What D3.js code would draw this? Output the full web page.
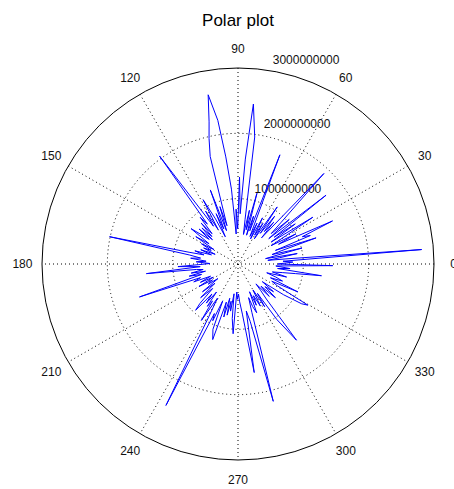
<!DOCTYPE html>
<html><head><meta charset="utf-8">
<script src="https://cdn.jsdelivr.net/npm/d3@7"></script>
<style>
html,body{margin:0;padding:0;background:#fff;}
text{font-family:"Liberation Sans",Arial,Helvetica,sans-serif;fill:#111;}
</style></head>
<body>
<svg id="chart" width="454" height="489"></svg>
<script>
const title = "Polar plot";
const angleTicks = [0,30,60,90,120,150,180,210,240,270,300,330];
const radialTicks = [1000000000,2000000000,3000000000];
const radialTickLabels = ["1000000000","2000000000","3000000000"];
const rMax = 3000000000;
const unit = 1e9;
const theta = [0,2,3.5,4.5,6,7,8.5,10,11,12.5,14,15.5,17,18.5,20,21.5,23,24.5,26,27.5,29,30.5,32,33.5,35,36.5,38,39.5,41,42.5,44,46.5,48,49.5,51,52.5,54,55.5,57,58.5,60,62,63.5,65,66.5,69,70.5,72,73.5,75,76.5,78,79.5,81,82.5,84.5,86,87.5,89,90.5,92,93.5,95,96.5,98,100,101.5,103,104.5,106,107.5,109,110.5,112,113.5,115,116.5,118.5,120,121.5,123,126,127.5,129,130.5,132,133.5,135,136.5,138,139.5,141,143,145,147,149,151,153,155,157,159,161,163,165,166.5,168,169.5,171,173,175,177,179,181,182.5,184,186,187.5,189,191,192.5,194,196,198.5,200,202,204,206,208,210,212,214,216,218,220,222,224,226,227.5,229,231,232.5,234,235.5,237,239,241,243,244.5,246,247.5,249,251.5,253,255,256.5,258,259.5,261,262.5,264,266,267.5,269,271,272.5,275,278.5,280,282,284.4,286,287.5,289,291,292.5,294,296,298,300,302,303.5,305,307.5,309,310.5,312,314,316,318,320,322,324,326,328,329.5,331,333,335,337,339,341,343,345,347,349,350.5,352,353.5,355,357,359,360];
const rho = [0.61,0.84,0.69,2.82,0.77,0.46,0.64,0.92,0.43,0.58,1.01,0.54,0.69,1.26,0.61,1.19,1.07,1.59,0.69,1.00,0.58,0.84,1.35,0.61,1.07,0.69,1.71,0.61,1.04,0.69,0.92,1.91,0.54,0.84,0.64,0.92,0.58,1.06,0.46,0.73,0.51,0.80,0.43,0.69,0.46,1.79,0.54,0.77,0.46,1.12,0.54,0.84,0.46,0.69,1.96,2.46,1.61,0.77,1.33,0.54,0.84,0.46,1.15,1.65,2.22,2.63,2.22,1.97,1.70,0.61,0.92,0.54,1.21,0.58,0.84,0.46,0.77,1.12,0.61,0.95,0.69,2.04,0.77,0.92,0.61,0.84,0.58,0.78,0.54,0.80,0.58,0.69,0.90,0.54,0.77,0.43,0.64,0.46,0.58,0.38,0.61,0.43,0.69,0.54,0.77,2.01,0.75,0.58,0.73,0.49,0.64,0.43,0.61,0.92,0.58,1.41,0.64,0.54,0.73,0.51,0.77,0.58,1.59,0.61,0.73,0.46,0.64,0.43,0.69,0.46,0.55,0.38,0.69,0.46,0.77,0.54,0.84,0.96,0.61,0.77,0.54,0.80,0.69,1.03,0.61,0.92,2.43,0.84,0.95,0.61,1.07,1.22,0.61,0.84,0.54,0.80,0.58,0.73,0.46,0.84,1.07,0.43,0.54,0.46,0.58,0.77,1.68,0.73,0.90,2.17,0.77,0.54,0.69,0.80,0.46,0.69,0.54,0.73,0.46,0.77,0.54,1.04,1.47,0.69,0.54,0.41,0.69,0.49,0.77,0.54,0.69,0.46,0.84,1.15,1.24,0.69,0.58,1.01,0.54,0.73,0.61,0.46,0.77,0.54,0.69,0.89,1.29,0.61,0.80,0.58,1.45,0.61];

const cx = 238, cy = 264, R = 196;
const svg = d3.select("#chart");
const g = svg.append("g").attr("transform", `translate(${cx},${cy})`);
const r = d3.scaleLinear().domain([0, rMax]).range([0, R]);
const a = d3.scaleLinear().domain([0, 360]).range([Math.PI/2, Math.PI/2 - 2*Math.PI]);
const px = (deg, v) => r(v) * Math.sin(a(deg));
const py = (deg, v) => -r(v) * Math.cos(a(deg));

// title
svg.append("text").attr("x", cx).attr("y", 26).attr("text-anchor","middle")
  .style("font-size","17px").style("fill","#000").text(title);

// spokes
angleTicks.filter(d => d < 180).forEach(d => {
  g.append("line")
    .attr("x1", px(d, rMax)).attr("y1", py(d, rMax))
    .attr("x2", px(d + 180, rMax)).attr("y2", py(d + 180, rMax))
    .attr("stroke", "#000").attr("stroke-width", 1)
    .attr("stroke-dasharray", "1,3");
});
// inner circles
radialTicks.filter(d => d < rMax).forEach(d => {
  g.append("circle").attr("r", r(d)).attr("fill","none")
    .attr("stroke","#000").attr("stroke-width",1).attr("stroke-dasharray","1,3");
});
// outer circle
g.append("circle").attr("r", r(rMax)).attr("fill","none").attr("stroke","#000").attr("stroke-width",1);

// angle labels
angleTicks.forEach(d => {
  g.append("text").attr("x", px(d, rMax*1.1)).attr("y", py(d, rMax*1.1))
    .attr("text-anchor","middle").attr("dy","0.35em")
    .style("font-size","12px").text(d);
});
// radial labels
radialTicks.forEach((d, i) => {
  const rr = d + unit/20;
  g.append("text").attr("x", px(82, rr) + 7).attr("y", py(82, rr) - 3)
    .style("font-size","12px").text(radialTickLabels[i]);
});

// data line
const data = theta.map((t, i) => ({t, v: rho[i] * unit}));
const line = d3.lineRadial().angle(d => a(d.t)).radius(d => r(d.v));
g.append("path").datum(data).attr("d", line)
  .attr("fill","none").attr("stroke","#0000ff").attr("stroke-width",1);
</script>
</body></html>
